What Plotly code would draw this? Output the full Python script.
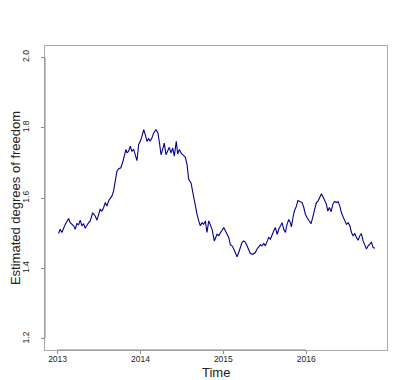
import plotly.graph_objects as go

# decimal-year time index and estimated df
time = [
    2013.012, 2013.031, 2013.052, 2013.072, 2013.092, 2013.133, 2013.152, 2013.193, 2013.213, 2013.233,
    2013.254, 2013.273, 2013.293, 2013.314, 2013.333, 2013.374, 2013.394, 2013.423, 2013.454, 2013.475,
    2013.495, 2013.514, 2013.535, 2013.556, 2013.575, 2013.595, 2013.616, 2013.635, 2013.656, 2013.676,
    2013.696, 2013.716, 2013.737, 2013.764, 2013.789, 2013.804, 2013.825, 2013.837, 2013.857, 2013.877,
    2013.897, 2013.918, 2013.937, 2013.958, 2013.978, 2013.998, 2014.018, 2014.039, 2014.058, 2014.078,
    2014.099, 2014.118, 2014.139, 2014.159, 2014.187, 2014.211, 2014.232, 2014.248, 2014.272, 2014.287,
    2014.308, 2014.329, 2014.348, 2014.368, 2014.389, 2014.408, 2014.432, 2014.449, 2014.469, 2014.489,
    2014.513, 2014.541, 2014.562, 2014.582, 2014.610, 2014.634, 2014.662, 2014.682, 2014.703, 2014.722,
    2014.743, 2014.763, 2014.783, 2014.803, 2014.824, 2014.843, 2014.864, 2014.891, 2014.924, 2014.944,
    2014.964, 2015.005, 2015.024, 2015.045, 2015.065, 2015.085, 2015.105, 2015.126, 2015.145, 2015.166,
    2015.186, 2015.205, 2015.226, 2015.246, 2015.266, 2015.286, 2015.307, 2015.326, 2015.355, 2015.386,
    2015.407, 2015.428, 2015.447, 2015.467, 2015.488, 2015.507, 2015.528, 2015.548, 2015.568, 2015.588,
    2015.609, 2015.628, 2015.649, 2015.669, 2015.688, 2015.709, 2015.729, 2015.749, 2015.769, 2015.790,
    2015.809, 2015.821, 2015.842, 2015.857, 2015.882, 2015.899, 2015.923, 2015.950, 2015.971, 2015.990,
    2016.011, 2016.031, 2016.059, 2016.083, 2016.104, 2016.123, 2016.144, 2016.164, 2016.184, 2016.204,
    2016.220, 2016.244, 2016.261, 2016.280, 2016.301, 2016.321, 2016.341, 2016.365, 2016.385, 2016.406,
    2016.425, 2016.446, 2016.466, 2016.486, 2016.506, 2016.527, 2016.546, 2016.566, 2016.587, 2016.606,
    2016.627, 2016.647, 2016.666, 2016.687, 2016.708, 2016.727, 2016.748, 2016.768, 2016.787, 2016.808,
    2016.829,
]
df_est = [
    1.499, 1.511, 1.502, 1.516, 1.525, 1.542, 1.530, 1.521, 1.511, 1.527,
    1.524, 1.537, 1.521, 1.527, 1.514, 1.530, 1.535, 1.558, 1.549, 1.537,
    1.554, 1.568, 1.563, 1.573, 1.587, 1.577, 1.592, 1.599, 1.606, 1.620,
    1.653, 1.676, 1.683, 1.686, 1.705, 1.723, 1.738, 1.728, 1.733, 1.747,
    1.733, 1.738, 1.723, 1.706, 1.752, 1.761, 1.775, 1.794, 1.780, 1.761,
    1.769, 1.761, 1.771, 1.785, 1.794, 1.785, 1.752, 1.723, 1.742, 1.756,
    1.723, 1.733, 1.744, 1.728, 1.742, 1.719, 1.761, 1.725, 1.738, 1.728,
    1.723, 1.716, 1.695, 1.653, 1.643, 1.610, 1.573, 1.554, 1.535, 1.521,
    1.530, 1.525, 1.535, 1.502, 1.535, 1.525, 1.511, 1.478, 1.497, 1.493,
    1.502, 1.516, 1.507, 1.497, 1.488, 1.467, 1.464, 1.455, 1.445, 1.433,
    1.445, 1.459, 1.474, 1.478, 1.474, 1.464, 1.450, 1.442, 1.440, 1.445,
    1.455, 1.461, 1.467, 1.464, 1.471, 1.464, 1.478, 1.488, 1.483, 1.497,
    1.507, 1.516, 1.497, 1.511, 1.521, 1.530, 1.511, 1.502, 1.525, 1.539,
    1.530, 1.518, 1.546, 1.563, 1.577, 1.593, 1.590, 1.587, 1.573, 1.554,
    1.544, 1.535, 1.527, 1.549, 1.573, 1.587, 1.592, 1.601, 1.612, 1.603,
    1.592, 1.582, 1.563, 1.573, 1.561, 1.582, 1.590, 1.587, 1.590, 1.577,
    1.558, 1.544, 1.535, 1.525, 1.530, 1.521, 1.502, 1.493, 1.499, 1.488,
    1.480, 1.493, 1.499, 1.478, 1.467, 1.455, 1.464, 1.469, 1.474, 1.459,
    1.457,
]
x_ticks = [2013, 2014, 2015, 2016]
y_ticks = [1.2, 1.4, 1.6, 1.8, 2.0]

font = "Liberation Sans, Arial, sans-serif"
box_col = "#ababab"
axis_col = "#8a8a8a"

fig = go.Figure(go.Scatter(
    x=time, y=df_est, mode="lines",
    line=dict(color="#00008b", width=1.1),
    showlegend=False))

fig.update_layout(
    width=418, height=380,
    margin=dict(l=37, r=39, t=38, b=38),
    paper_bgcolor="white", plot_bgcolor="white",
    font=dict(family=font, color="#222"),
    xaxis=dict(range=[2012.848, 2016.975], tickvals=x_ticks, ticks="outside",
               ticklen=3, tickcolor=axis_col, tickfont=dict(size=8.5),
               ticklabelstandoff=-2, automargin=False,
               showgrid=False, zeroline=False, showline=True, mirror=True,
               linecolor=box_col, linewidth=1),
    yaxis=dict(range=[1.168, 2.032], tickvals=y_ticks, tickformat=".1f",
               ticks="outside", ticklen=3, tickcolor=axis_col, tickangle=-90,
               ticklabelstandoff=9, automargin=False,
               tickfont=dict(size=8.5), showgrid=False, zeroline=False,
               showline=True, mirror=True, linecolor=box_col, linewidth=1,
               title=dict(text="Estimated degrees of freedom", font=dict(size=13), standoff=3)),
)

fig.add_annotation(text="Time", xref="paper", yref="paper", x=0.5, y=0,
                   yshift=-13, yanchor="top", showarrow=False,
                   font=dict(size=13, family=font, color="#222"))

# R-style axis segments spanning only the tick range
fig.add_shape(type="line", xref="x", yref="paper", x0=x_ticks[0], x1=x_ticks[-1],
              y0=0, y1=0, line=dict(color=axis_col, width=1))
fig.add_shape(type="line", xref="paper", yref="y", x0=0, x1=0,
              y0=y_ticks[0], y1=y_ticks[-1], line=dict(color=axis_col, width=1))

fig.write_html("out.html")
